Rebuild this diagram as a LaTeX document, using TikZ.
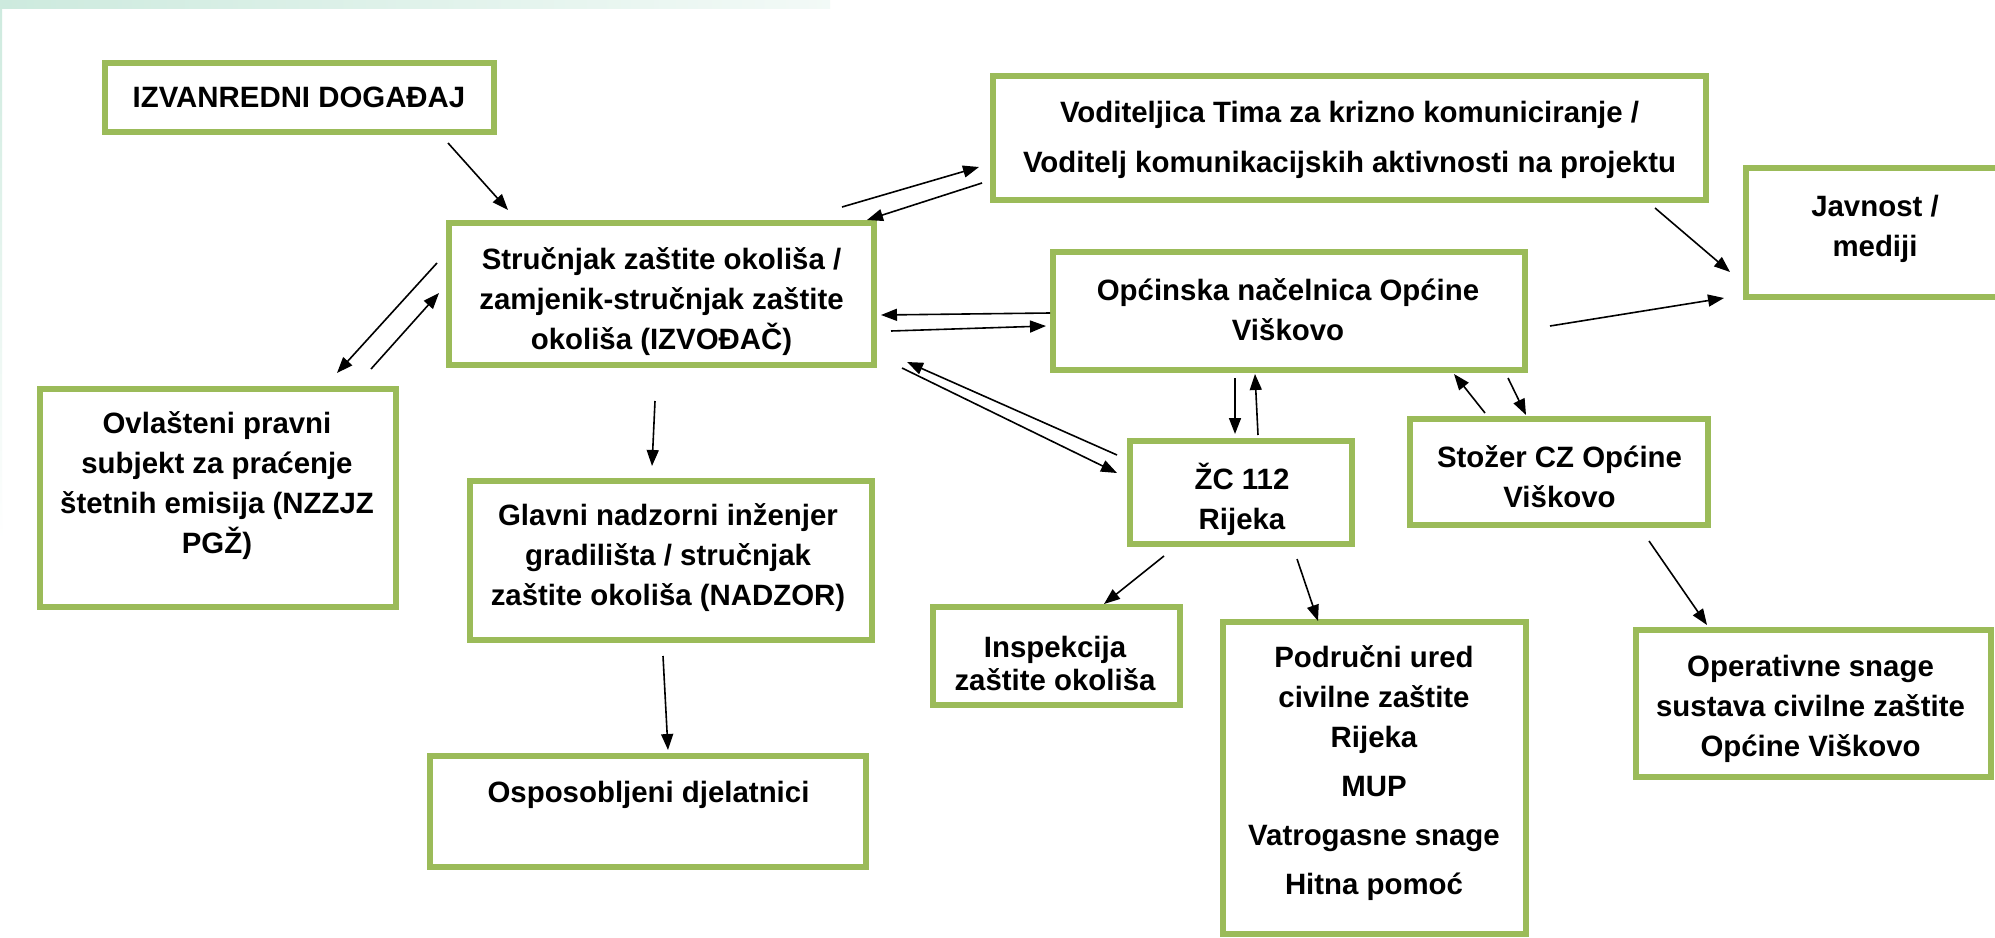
\documentclass[tikz,border=0pt]{standalone}
\usepackage{fontspec}
\setmainfont{Liberation Sans}
\usetikzlibrary{arrows.meta}
\definecolor{boxgreen}{RGB}{155,187,89}
\definecolor{stripteal}{RGB}{205,234,222}
\begin{document}
\begin{tikzpicture}[x=0.5pt,y=-0.5pt,
  box/.style={draw=boxgreen, line width=3pt, fill=white, inner sep=0pt, rectangle},
  txt/.style={align=center, font=\bfseries\fontsize{14.7}{20}\selectfont, inner sep=0pt},
  arr/.style={draw=black, line width=0.8pt, -{Triangle[length=8pt,width=6pt]}}]
\useasboundingbox[fill=white] (0,0) rectangle (1995,937);
% decorations
\shade[left color=stripteal, right color=stripteal!25!white] (0,0) rectangle (830,8);
\shade[top color=stripteal, bottom color=white] (0,0) rectangle (2,541);

% boxes
\node[box, minimum width=194.5pt, minimum height=34.5pt] (izv) at (299.5,97.5) {};
\node[box, minimum width=212.5pt, minimum height=71pt] (str) at (661.5,294) {};
\node[box, minimum width=356.5pt, minimum height=62pt] (vod) at (1349.5,138) {};
\node[box, minimum width=127pt, minimum height=64.5pt] (jav) at (1873,232.5) {};
\node[box, minimum width=236pt, minimum height=59pt] (opc) at (1289,311) {};
\node[box, minimum width=178pt, minimum height=109pt] (ovl) at (218,498) {};
\node[box, minimum width=201pt, minimum height=79.5pt] (glv) at (671,560.5) {};
\node[box, minimum width=218pt, minimum height=55.5pt] (osp) at (648,811.5) {};
\node[box, minimum width=111pt, minimum height=51.5pt] (zc) at (1241,492.5) {};
\node[box, minimum width=149pt, minimum height=53pt] (stz) at (1559,472) {};
\node[box, minimum width=123.5pt, minimum height=49pt] (ins) at (1056.5,656) {};
\node[box, minimum width=151.5pt, minimum height=156pt] (pod) at (1374.5,778) {};
\node[box, minimum width=177.5pt, minimum height=73.5pt] (ops) at (1813.5,703.5) {};

% texts
\node[txt] (izv-t) at (299,97) {IZVANREDNI DOGAĐAJ};
\node[txt] (str-t) at (661.5,302) {Stručnjak zaštite okoliša /\\zamjenik-stručnjak zaštite\\okoliša (IZVOĐAČ)};
\node[txt, font=\bfseries\fontsize{14.7}{25}\selectfont] (vod-t) at (1349.5,140) {Voditeljica Tima za krizno komuniciranje /\\Voditelj komunikacijskih aktivnosti na projektu};
\node[txt] (jav-t) at (1875,228.5) {Javnost /\\mediji};
\node[txt] (opc-t) at (1288,310) {Općinska načelnica Općine\\Viškovo};
\node[txt] (ovl-t) at (217,486) {Ovlašteni pravni\\subjekt za praćenje\\štetnih emisija (NZZJZ\\PGŽ)};
\node[txt] (glv-t) at (668,558) {Glavni nadzorni inženjer\\gradilišta / stručnjak\\zaštite okoliša (NADZOR)};
\node[txt] (osp-t) at (648.5,795) {Osposobljeni djelatnici};
\node[txt] (zc-t) at (1242,499) {ŽC 112\\Rijeka};
\node[txt] (stz-t) at (1559.5,477) {Stožer CZ Općine\\Viškovo};
\node[txt, font=\bfseries\fontsize{14.7}{16.5}\selectfont] (ins-t) at (1055,663) {Inspekcija\\zaštite okoliša};
\node[txt] (pod-t) at (1374,773) {Područni ured\\civilne zaštite\\Rijeka\\[4.5pt]MUP\\[4.5pt]Vatrogasne snage\\[4.5pt]Hitna pomoć};
\node[txt] (ops-t) at (1810.5,709) {Operativne snage\\sustava civilne zaštite\\Općine Viškovo};

% connectors
\draw[arr] ([shift={(148.5,45.5)}]izv.center) -- ([shift={(-153.5,-84)}]str.center);
\draw[arr] ([shift={(180.5,-87)}]str.center) -- ([shift={(-370.5,29)}]vod.center);
\draw[arr] ([shift={(-367.5,45)}]vod.center) -- ([shift={(205.5,-74)}]str.center);
\draw[arr] ([shift={(-224.5,-31)}]str.center) -- ([shift={(119,-125)}]ovl.center);
\draw[arr] ([shift={(153,-129)}]ovl.center) -- ([shift={(-222.5,-1)}]str.center);
\draw[arr] ([shift={(-239,2)}]opc.center) -- ([shift={(219.5,21)}]str.center);
\draw[arr] ([shift={(229.5,37)}]str.center) -- ([shift={(-243,15)}]opc.center);
\draw[arr] ([shift={(-124,-37.5)}]zc.center) -- ([shift={(245.5,68)}]str.center);
\draw[arr] ([shift={(240.5,74)}]str.center) -- ([shift={(-124,-19.5)}]zc.center);
\draw[arr] ([shift={(305.5,70)}]vod.center) -- ([shift={(-143,39.5)}]jav.center);
\draw[arr] ([shift={(261,15)}]opc.center) -- ([shift={(-149,65.5)}]jav.center);
\draw[arr] ([shift={(-54,67)}]opc.center) -- ([shift={(-6,-58.5)}]zc.center);
\draw[arr] ([shift={(17,-57.5)}]zc.center) -- ([shift={(-34,63)}]opc.center);
\draw[arr] ([shift={(-74,-59)}]stz.center) -- ([shift={(165,63)}]opc.center);
\draw[arr] ([shift={(219,67)}]opc.center) -- ([shift={(-33,-57)}]stz.center);
\draw[arr] ([shift={(-77,63.5)}]zc.center) -- ([shift={(47.5,-52)}]ins.center);
\draw[arr] ([shift={(56,66.5)}]zc.center) -- ([shift={(-56.5,-157)}]pod.center);
\draw[arr] ([shift={(90,69)}]stz.center) -- ([shift={(-106.5,-78.5)}]ops.center);
\draw[arr] ([shift={(-6.5,107)}]str.center) -- ([shift={(-19,-94.5)}]glv.center);
\draw[arr] ([shift={(-8,95.5)}]glv.center) -- ([shift={(20,-61.5)}]osp.center);
\end{tikzpicture}
\end{document}
